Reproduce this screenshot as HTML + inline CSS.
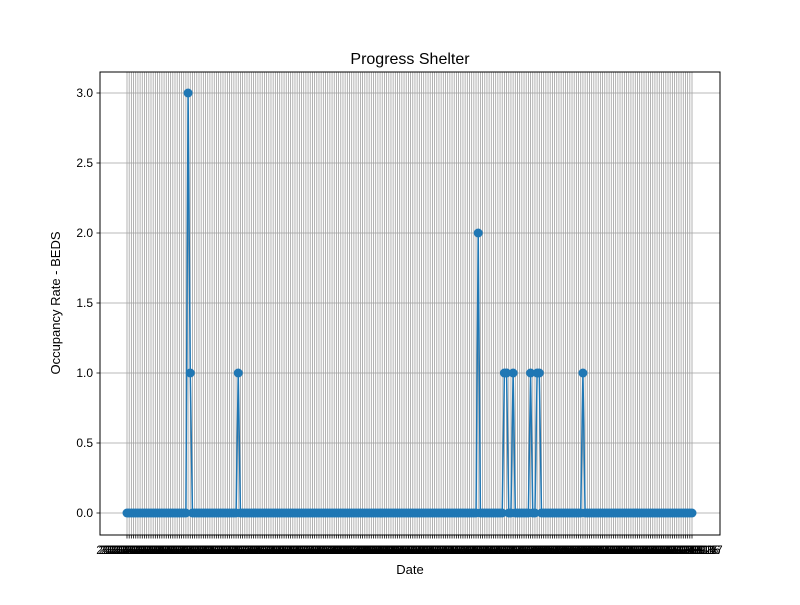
<!DOCTYPE html>
<html><head><meta charset="utf-8"><style>
body{margin:0;background:#fff}
svg{font-family:"Liberation Sans","DejaVu Sans",sans-serif}
</style></head><body>
<svg id="chart" width="800" height="600" xmlns="http://www.w3.org/2000/svg">
<rect width="800" height="600" fill="#fff"/>
<g id="grid"></g>
<g id="series"></g>
<rect x="100" y="72" width="620" height="463" fill="none" stroke="#000" stroke-width="1"/>
<g id="axes"></g>
<text x="410" y="64" font-size="16" text-anchor="middle">Progress Shelter</text>
<text x="410" y="574" font-size="13" text-anchor="middle">Date</text>
<text transform="translate(60,303) rotate(-90)" font-size="13" text-anchor="middle">Occupancy Rate - BEDS</text>
</svg>
<script>
const values = [
0,0,0,0,0,0,0,0,0,0,
0,0,0,0,0,0,0,0,0,0,
0,0,0,0,0,0,0,0,3,1,
0,0,0,0,0,0,0,0,0,0,
0,0,0,0,0,0,0,0,0,0,
0,1,0,0,0,0,0,0,0,0,
0,0,0,0,0,0,0,0,0,0,
0,0,0,0,0,0,0,0,0,0,
0,0,0,0,0,0,0,0,0,0,
0,0,0,0,0,0,0,0,0,0,
0,0,0,0,0,0,0,0,0,0,
0,0,0,0,0,0,0,0,0,0,
0,0,0,0,0,0,0,0,0,0,
0,0,0,0,0,0,0,0,0,0,
0,0,0,0,0,0,0,0,0,0,
0,0,0,0,0,0,0,0,0,0,
0,2,0,0,0,0,0,0,0,0,
0,0,0,1,1,0,0,1,0,0,
0,0,0,0,0,1,0,0,1,1,
0,0,0,0,0,0,0,0,0,0,
0,0,0,0,0,0,0,0,0,1,
0,0,0,0,0,0,0,0,0,0,
0,0,0,0,0,0,0,0,0,0,
0,0,0,0,0,0,0,0,0,0,
0,0,0,0,0,0,0,0,0,0,
0,0,0,0,0,0,0,0,0,0
];
const yTicks = [0, 0.5, 1, 1.5, 2, 2.5, 3];
const yTickLabels = ["0.0","0.5","1.0","1.5","2.0","2.5","3.0"];
const startDate = "2022-01-01";
const categories = [];
{ const d0 = new Date(startDate + "T00:00:00Z");
  for (let i = 0; i < values.length; i++) { const d = new Date(d0.getTime() + i*86400000); categories.push(d.toISOString().slice(0,10)); } }

const NS = "http://www.w3.org/2000/svg";
const x0 = 127, x1 = 692, yZero = 513, yPerUnit = 140;
function xScale(i){ return x0 + (x1 - x0) * i / (categories.length - 1); }
function yScale(v){ return yZero - v * yPerUnit; }
function mk(tag, attrs, parent){ const e = document.createElementNS(NS, tag); for (const k in attrs) e.setAttribute(k, attrs[k]); parent.appendChild(e); return e; }
const grid = document.getElementById('grid'), series = document.getElementById('series'), axes = document.getElementById('axes');

categories.forEach((c, i) => {
  const x = xScale(i);
  const gl = mk('line', {x1:x, x2:x, y1:72, y2:535, stroke:'#a0a0a0', 'stroke-width':0.8}, grid);
  
  
  const tk = mk('line', {x1:x, x2:x, y1:535, y2:538.5, stroke:'#000', 'stroke-width':0.8}, axes);
  
  
  const tl = mk('text', {x:x, y:554, 'font-size':12, 'text-anchor':'middle'}, axes);
  tl.textContent = c;
  
  
});
yTicks.forEach((v, i) => {
  const y = yScale(v);
  const gl = mk('line', {x1:100, x2:720, y1:y, y2:y, stroke:'#a0a0a0', 'stroke-width':0.8}, grid);
  
  
  const tk = mk('line', {x1:96.5, x2:100, y1:y, y2:y, stroke:'#000', 'stroke-width':0.8}, axes);
  
  
  const tl = mk('text', {x:93, y:y+4, 'font-size':12, 'text-anchor':'end'}, axes);
  tl.textContent = yTickLabels[i];
  
  
});
const pts = values.map((v, i) => xScale(i) + ',' + yScale(v)).join(' ');
const line = mk('polyline', {points:pts, fill:'none', stroke:'#1f77b4', 'stroke-width':1.5, 'stroke-linejoin':'round'}, series);


values.forEach((v, i) => {
  const p = mk('circle', {cx:xScale(i), cy:yScale(v), r:4.5, fill:'#1f77b4'}, series);
  
  
});
</script>
</body></html>
